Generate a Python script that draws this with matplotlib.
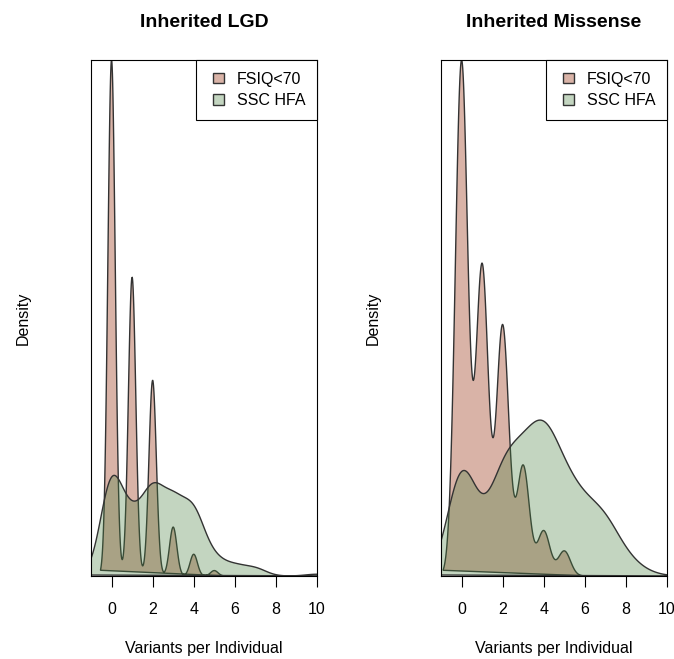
import numpy as np
import matplotlib.pyplot as plt
from matplotlib.patches import Rectangle, Patch
from matplotlib.legend_handler import HandlerPatch

plt.rcParams["font.family"] = ["Liberation Sans", "DejaVu Sans"]

# number of individuals carrying 0, 1, 2, ... inherited variants
lgd_fsiq = [95, 55, 36, 9, 4, 1]
lgd_hfa = [51, 25, 41, 34, 32, 8, 5, 4, 0, 0, 1]
mis_fsiq = [103, 62, 50, 22, 9, 5]
mis_hfa = [36, 7, 29, 29, 38, 24, 17, 15, 5, 1]

# kernel bandwidths of the smoothed curves
bw = {"lgd_fsiq": 0.18, "lgd_hfa": 0.55, "mis_fsiq": 0.30, "mis_hfa": 0.70}

titles = ["Inherited LGD", "Inherited Missense"]
groups = ["FSIQ<70", "SSC HFA"]
xticks = [0, 2, 4, 6, 8, 10]

red = (165 / 255, 75 / 255, 45 / 255, 0.42)
green = (73 / 255, 128 / 255, 64 / 255, 0.33)
edge = "#333333"


def density(counts, h, n=512):
    # gaussian kernel density like R's density(), grid from min-3h to max+3h
    vals = np.arange(len(counts))
    w = np.array(counts, float) / sum(counts)
    lo = vals[w > 0].min() - 3 * h
    hi = vals[w > 0].max() + 3 * h
    x = np.linspace(lo, hi, n)
    y = (w[None, :] * np.exp(-0.5 * ((x[:, None] - vals[None, :]) / h) ** 2)).sum(1)
    y = y / (h * np.sqrt(2 * np.pi))
    return x, y


def small_box(legend, orig_handle, xdescent, ydescent, width, height, fontsize):
    s = 0.66 * fontsize
    return Rectangle((width - s - xdescent, (height - s) / 2 - ydescent), s, s)


fig = plt.figure(figsize=(6.74, 6.59), dpi=100)
axes = [fig.add_axes([91 / 674, 83 / 659, 226 / 674, 516 / 659]),
        fig.add_axes([441 / 674, 83 / 659, 226 / 674, 516 / 659])]

panels = [(lgd_fsiq, bw["lgd_fsiq"], lgd_hfa, bw["lgd_hfa"]),
          (mis_fsiq, bw["mis_fsiq"], mis_hfa, bw["mis_hfa"])]

for ax, title, (c1, h1, c2, h2) in zip(axes, titles, panels):
    x1, y1 = density(c1, h1)
    x2, y2 = density(c2, h2)
    ax.fill(x1, y1, facecolor=red, edgecolor=edge, linewidth=1.0, label=groups[0])
    ax.fill(x2, y2, facecolor=green, edgecolor=edge, linewidth=1.0, label=groups[1])
    ax.set_xlim(-1, 10)
    ax.set_ylim(0, y1.max())
    ax.set_xticks(xticks)
    ax.set_yticks([])
    ax.tick_params(axis="x", direction="out", length=8, width=0.8, pad=10.5, labelsize=11.5)
    for sp in ax.spines.values():
        sp.set_linewidth(0.8)
    ax.set_title(title, fontsize=14, fontweight="bold", pad=24)
    ax.set_xlabel("Variants per Individual", fontsize=11.5)
    ax.xaxis.set_label_coords(0.5, -0.126)
    ax.set_ylabel("Density", fontsize=11.5)
    ax.yaxis.set_label_coords(-0.265, 0.5)
    leg = ax.legend(loc="upper right", borderaxespad=0, fancybox=False, framealpha=1,
                    edgecolor="black", fontsize=11.5, handlelength=1.0, handleheight=0.7,
                    handletextpad=0.8, borderpad=0.74, labelspacing=0.38,
                    handler_map={Patch: HandlerPatch(patch_func=small_box)})
    leg.get_frame().set_linewidth(0.8)

fig.savefig("out.png", dpi=100)
